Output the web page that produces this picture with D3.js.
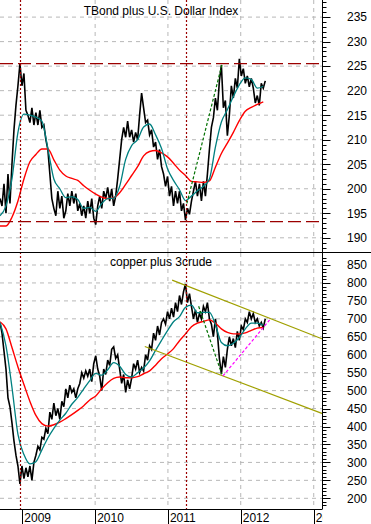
<!DOCTYPE html>
<html>
<head>
<meta charset="utf-8">
<script src="https://cdn.jsdelivr.net/npm/d3@7.9.0/dist/d3.min.js"></script>
<style>
  html, body { margin: 0; padding: 0; background: #fff; }
  svg { display: block; font-family: "Liberation Sans", Arial, sans-serif; }
</style>
</head>
<body>
<svg id="chart" width="371" height="524"></svg>
<script>
// sampling of the daily series
const seriesStart = new Date(2008, 8, 11);
const priceStepDays = 10;
const avgStepDays = 30;

const tbondPrice = [
  198, 196.5, 201, 195, 203, 197, 205, 212, 217, 221, 225.5, 221, 223.5, 216, 215, 213.5, 216.5, 213, 215.5, 213,
  216, 212.5, 213, 210, 208, 203, 198, 196, 194.5, 199.5, 196, 198.5, 194, 195.5, 199, 196.5, 199.5, 197, 199, 195.5,
  197, 194.5, 196.5, 194, 197.5, 195, 198, 194, 192.7, 196.5, 198.5, 196, 199.5, 198, 200.3, 197.5, 200, 196.5, 198.5, 202,
  206, 210, 212.5, 210.5, 213.8, 210.5, 212, 209.5, 211.5, 210, 215, 219.5, 216.5, 213.5, 214, 211, 212, 208.5, 209.5, 206,
  208, 204.5, 203, 200.5, 202.5, 198.5, 200.5, 196.5, 199.5, 197, 199.5, 195.5, 197, 193.6, 196, 194.8, 197.5, 199.5, 201.5, 198.5,
  201, 197.5, 201.5, 198.5, 203, 208, 212.5, 214.5, 218.5, 216, 222, 225.2, 216.5, 218, 210.8, 215, 221, 218.5, 222.5, 220.5,
  226.5, 223, 224.5, 221.5, 223, 220.8, 222.5, 220.5, 217.5, 219, 217, 221.5, 220.5, 222
];
const tbondFast = [
  194.5, 196.5, 202, 211.5, 215.2, 215, 214.6, 213.8, 208.2, 202, 200, 198.2, 198.4, 197.8, 196, 196.2, 195.4, 197, 198, 198.1,
  200.5, 206, 208.8, 210, 212.6, 213.2, 211, 208.2, 204.1, 201.7, 199.8, 197.6, 198.5, 199.6, 200.5, 202, 208.5, 213.6, 216.1, 218.8,
  221.2, 222.6, 222.3, 220.5, 220.9
];
const tbondSlow = [
  192.4, 192.4, 194.2, 197.5, 202, 205.5, 207, 208.1, 208.1, 205.9, 203.8, 202.6, 202.1, 201.7, 200.6, 199.7, 198.9, 198.3, 198, 198.2,
  199.2, 200.9, 202.7, 204.5, 206.7, 207.6, 207.8, 207.3, 206.5, 205.2, 203.8, 202.7, 201.5, 201.4, 201.3, 201.6, 204.4, 207.2, 209.3, 211.5,
  213.9, 215.8, 216.6, 217.2, 217.7
];

const copperPrice = [
  690, 660, 610, 560, 480, 455, 410, 360, 320, 290, 240, 290, 255, 285, 260, 290, 250, 300, 320, 345,
  335, 370, 365, 395, 380, 440, 420, 465, 430, 450, 420, 470, 455, 505, 480, 515, 495, 505, 480, 505,
  520, 550, 535, 555, 540, 560, 525, 575, 597, 560, 540, 500, 560, 545, 585, 570, 615, 622, 590, 600,
  560, 520, 545, 495, 530, 505, 535, 575, 560, 585, 550, 565, 555, 600, 585, 625, 615, 660, 640, 680,
  655, 690, 700, 685, 720, 700, 730, 705, 745, 720, 765, 740, 775, 797, 745, 770, 735, 700, 725, 690,
  715, 700, 735, 720, 745, 700, 685, 650, 700, 660, 590, 546, 595, 565, 615, 650, 625, 645, 620, 665,
  640, 680, 670, 700, 690, 720, 700, 715, 690, 700, 680, 690, 675, 700
];
const copperFast = [
  690, 625, 509, 378, 322, 296, 302, 335, 368, 395, 418, 437, 462, 481, 505, 528, 548, 543, 558, 578,
  568, 545, 538, 550, 563, 583, 612, 640, 667, 692, 706, 732, 738, 717, 718, 718, 684, 634, 625, 632,
  648, 672, 688, 688, 682
];
const copperSlow = [
  692, 672, 620, 566, 517, 470, 431, 408, 401, 405, 412, 422, 433, 445, 458, 474, 485, 505, 522, 534,
  538, 536, 536, 539, 547, 555, 571, 589, 602, 617, 639, 658, 678, 688, 693, 697, 688, 672, 662, 658,
  658, 661, 668, 674, 676
];

const yearTicks = ["2009-01-01", "2010-01-01", "2011-01-01", "2012-01-01", "2013-01-01"];
const gridYears = ["2010-01-01", "2011-01-01", "2012-01-01", "2013-01-01"];
const markerDates = ["2008-12-18", "2011-04-01"];
const tbondBands = [225.5, 193.3];
const tbondTrend = [["2011-04-06", 197], ["2011-09-30", 225.5]];
const copperChannelTop = [["2011-01-22", 808], ["2013-02-14", 644]];
const copperChannelBottom = [["2010-09-07", 623], ["2013-02-14", 436]];
const copperDrop = [["2011-06-04", 735], ["2011-09-28", 546]];
const copperRise = [["2011-10-04", 541], ["2012-05-25", 697]];

const parse = d3.timeParse("%Y-%m-%d");
const W = 371, H = 524;
const plotRight = 322.5;
const svg = d3.select("#chart");

const x = d3.scaleTime()
  .domain([seriesStart, parse("2013-02-14")])
  .range([0, plotRight]);

const panels = [
  {
    id: "top", title: "TBond plus U.S. Dollar Index", top: 0, bottom: 252,
    y: d3.scaleLinear().domain([190, 235]).range([237.8, 17.1]),
    major: d3.range(190, 236, 5), minor: d3.range(188, 239, 1),
    price: tbondPrice, fast: tbondFast, slow: tbondSlow, titleY: 15
  },
  {
    id: "bot", title: "copper plus 3crude", top: 253, bottom: 509,
    y: d3.scaleLinear().domain([200, 850]).range([498.3, 265]),
    major: d3.range(200, 851, 50), minor: d3.range(170, 871, 10),
    price: copperPrice, fast: copperFast, slow: copperSlow, titleY: 266
  }
];

const dateAt = (i, step) => d3.timeDay.offset(seriesStart, i * step);
const gridColor = "#b8b8b8";

panels.forEach(p => {
  const g = svg.append("g");
  const clipId = "clip-" + p.id;
  svg.append("clipPath").attr("id", clipId)
    .append("rect").attr("x", 0).attr("y", p.top).attr("width", plotRight).attr("height", p.bottom - p.top);

  // horizontal grid
  g.selectAll(".hg").data(p.major).join("line")
    .attr("x1", 0).attr("x2", plotRight)
    .attr("y1", d => p.y(d)).attr("y2", d => p.y(d))
    .attr("stroke", gridColor).attr("stroke-dasharray", "4,4");

  // vertical grid
  g.selectAll(".vg").data(gridYears).join("line")
    .attr("x1", d => x(parse(d))).attr("x2", d => x(parse(d)))
    .attr("y1", p.top).attr("y2", p.bottom)
    .attr("stroke", gridColor).attr("stroke-dasharray", "4,4");

  g.append("text").text(p.title)
    .attr("x", 161).attr("y", p.titleY)
    .attr("text-anchor", "middle").attr("font-size", 12).attr("fill", "#000");

  const marks = g.append("g").attr("clip-path", `url(#${clipId})`);

  const line = (step) => d3.line()
    .x((d, i) => x(dateAt(i, step)))
    .y(d => p.y(d));

  marks.append("path").datum(p.price)
    .attr("d", line(priceStepDays))
    .attr("fill", "none").attr("stroke", "#000").attr("stroke-width", 1.6)
    .attr("stroke-linejoin", "miter");

  marks.append("path").datum(p.slow)
    .attr("d", line(avgStepDays).curve(d3.curveMonotoneX))
    .attr("fill", "none").attr("stroke", "#ff0000").attr("stroke-width", 1.4);

  marks.append("path").datum(p.fast)
    .attr("d", line(avgStepDays).curve(d3.curveMonotoneX))
    .attr("fill", "none").attr("stroke", "#008080").attr("stroke-width", 1.3);

  p.marks = marks;

  // right axis
  const axis = d3.axisRight(p.y).tickValues(p.major).tickSize(0).tickPadding(0).tickFormat(d3.format("d"));
  const ax = svg.append("g").attr("transform", `translate(${plotRight},0)`).call(axis);
  ax.select(".domain").remove();
  ax.selectAll("text").attr("x", 44.5).attr("text-anchor", "end")
    .attr("font-size", 12).attr("font-family", "Liberation Sans, Arial, sans-serif").attr("fill", "#000");

  const inRange = d => p.y(d) > p.top + 2 && p.y(d) < p.bottom - 1;
  svg.append("g").selectAll("line").data(p.minor.filter(inRange)).join("line")
    .attr("x1", plotRight).attr("x2", d => plotRight + (p.major.includes(d) ? 8 : 4))
    .attr("y1", d => Math.round(p.y(d)) + 0.5).attr("y2", d => Math.round(p.y(d)) + 0.5)
    .attr("stroke", "#000");
});

const [topPanel, botPanel] = panels;

// horizontal bands on TBond
topPanel.marks.selectAll(".band").data(tbondBands).join("line")
  .attr("x1", 0).attr("x2", plotRight)
  .attr("y1", d => topPanel.y(d)).attr("y2", d => topPanel.y(d))
  .attr("stroke", "#9b0000").attr("stroke-width", 1.2).attr("stroke-dasharray", "13,5");

const seg = (panel, pts, color, dash, width) => panel.marks.append("path")
  .datum(pts)
  .attr("d", d3.line().x(d => x(parse(d[0]))).y(d => panel.y(d[1])))
  .attr("fill", "none").attr("stroke", color).attr("stroke-width", width)
  .attr("stroke-dasharray", dash);

seg(topPanel, tbondTrend, "#007000", "3,2", 1.2);
seg(botPanel, copperChannelTop, "#a0a000", null, 1.2);
seg(botPanel, copperChannelBottom, "#a0a000", null, 1.2);
seg(botPanel, copperDrop, "#007000", "3,2", 1.2);
seg(botPanel, copperRise, "#ff00ff", "3,2", 1.2);

// marker verticals
svg.append("g").selectAll("line").data(markerDates).join("line")
  .attr("x1", d => Math.round(x(parse(d))) + 0.5).attr("x2", d => Math.round(x(parse(d))) + 0.5)
  .attr("y1", 0).attr("y2", 509)
  .attr("stroke", "#9b0000").attr("stroke-width", 1.2).attr("stroke-dasharray", "2,2");

// frame lines
svg.append("line").attr("x1", 0).attr("x2", W).attr("y1", 252.5).attr("y2", 252.5).attr("stroke", "#000");
svg.append("line").attr("x1", plotRight).attr("x2", plotRight).attr("y1", 0).attr("y2", 509).attr("stroke", "#000");
svg.append("line").attr("x1", 0).attr("x2", plotRight).attr("y1", 509.5).attr("y2", 509.5).attr("stroke", "#000");

// x axis
svg.append("clipPath").attr("id", "clip-x")
  .append("rect").attr("x", 0).attr("y", 505).attr("width", plotRight).attr("height", 20);
const xa = svg.append("g").attr("clip-path", "url(#clip-x)");
xa.selectAll("line").data(yearTicks).join("line")
  .attr("x1", d => Math.round(x(parse(d))) + 0.5).attr("x2", d => Math.round(x(parse(d))) + 0.5)
  .attr("y1", 509).attr("y2", H).attr("stroke", "#000");
xa.selectAll("text").data(yearTicks).join("text")
  .attr("x", d => x(parse(d)) + 2).attr("y", 521.5)
  .attr("font-size", 12).attr("fill", "#000")
  .text(d => d.slice(0, 4));
</script>
</body>
</html>
